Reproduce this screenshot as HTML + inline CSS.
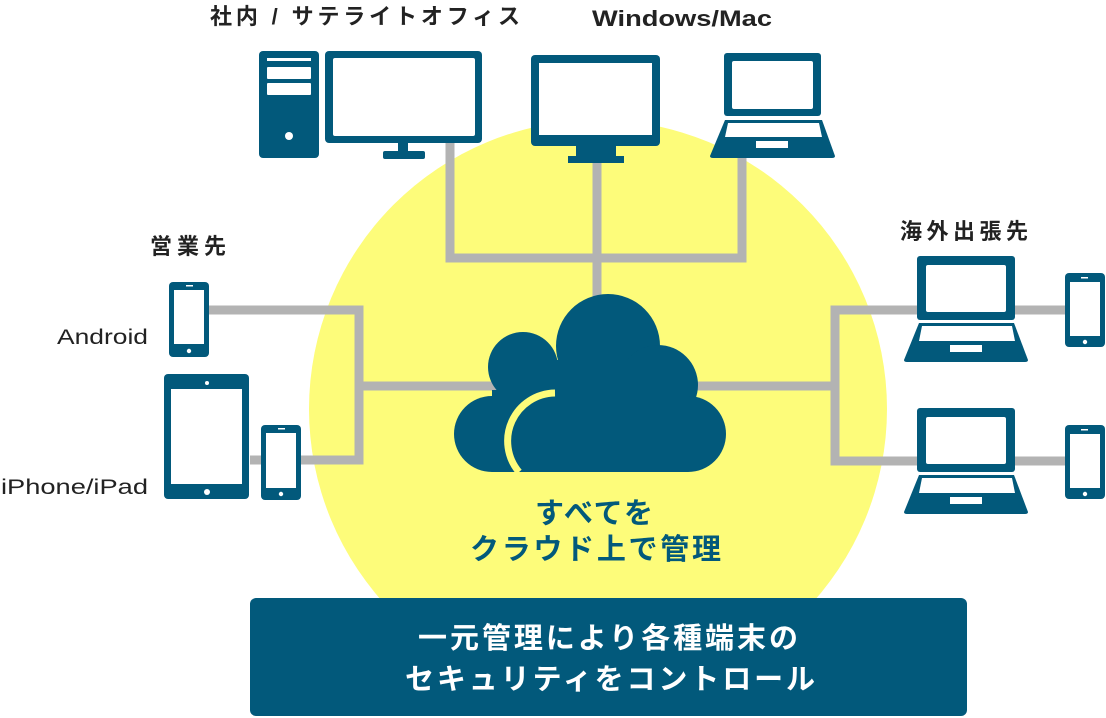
<!DOCTYPE html>
<html><head><meta charset="utf-8"><style>
html,body{margin:0;padding:0;background:#fff;}
svg{display:block;}
text{font-family:"Liberation Sans","Noto Sans CJK JP",sans-serif;}
</style></head><body>
<svg width="1106" height="718" viewBox="0 0 1106 718" xmlns="http://www.w3.org/2000/svg">
<circle cx="598" cy="409" r="289" fill="#fdfc7a"/>
<g stroke="#b3b3b3" stroke-width="9" fill="none">
<polyline points="450,143 450,258 742,258 742,158"/>
<line x1="597" y1="160" x2="597" y2="300"/>
<polyline points="209,310 359,310 359,460 250,460"/>
<line x1="359" y1="386" x2="500" y2="386"/>
<line x1="690" y1="386" x2="835" y2="386"/>
<polyline points="1065,310 835,310 835,461 1065,461"/>
</g>
<g fill="#02597b">
<rect x="259" y="51" width="60" height="107" rx="4"/>
<rect x="267" y="58" width="44" height="3" fill="#fff"/>
<rect x="267" y="67" width="44" height="12" rx="1" fill="#fff"/>
<rect x="267" y="83" width="44" height="12" rx="1" fill="#fff"/>
<circle cx="289" cy="136" r="4" fill="#fff"/>
<rect x="325" y="51" width="157" height="92" rx="4"/>
<rect x="333" y="58" width="142" height="78" rx="2" fill="#fff"/>
<rect x="398" y="143" width="10" height="9"/>
<rect x="383" y="151" width="42" height="8" rx="2"/>
<rect x="531" y="55" width="129" height="91" rx="4"/>
<rect x="539" y="63" width="113" height="72" fill="#fff"/>
<rect x="576" y="146" width="40" height="11"/>
<rect x="568" y="156" width="56" height="7"/>
<rect x="724" y="53" width="97" height="63" rx="3"/>
<rect x="732" y="61" width="81" height="48" rx="2" fill="#fff"/>
<path d="M725,120 L822,120 L835,156 Q835,158 832,158 L713,158 Q710,158 710,156 Z"/>
<path d="M728,123 L819,123 L822,137 L725,137 Z" fill="#fff"/>
<rect x="756" y="141" width="32" height="7" fill="#fff"/>
<rect x="169" y="282" width="40" height="75" rx="4"/>
<rect x="174" y="290" width="30" height="54" fill="#fff"/>
<rect x="186" y="285" width="7" height="1.5" fill="#fff"/>
<circle cx="189" cy="351" r="2.2" fill="#fff"/>
<rect x="164" y="374" width="85" height="125" rx="4"/>
<rect x="171" y="389" width="71" height="95" fill="#fff"/>
<circle cx="207" cy="383" r="2" fill="#fff"/>
<circle cx="207" cy="492" r="3" fill="#fff"/>
<rect x="261" y="425" width="40" height="75" rx="4"/>
<rect x="266" y="433" width="30" height="55" fill="#fff"/>
<rect x="278" y="428" width="7" height="1.5" fill="#fff"/>
<circle cx="281" cy="494" r="2.2" fill="#fff"/>
<g id="lap">
<rect x="917" y="256" width="98" height="64" rx="3"/>
<rect x="926" y="265" width="80" height="47" rx="2" fill="#fff"/>
<path d="M919,323 L1014,323 L1028,360 Q1028,362 1025,362 L907,362 Q904,362 904,360 Z"/>
<path d="M922,326 L1012,326 L1015,341 L919,341 Z" fill="#fff"/>
<rect x="950" y="345" width="32" height="7" fill="#fff"/>
<rect x="1065" y="273" width="40" height="74" rx="4"/>
<rect x="1070" y="282" width="30" height="54" fill="#fff"/>
<rect x="1081" y="277" width="7" height="1.5" fill="#fff"/>
<circle cx="1085" cy="342" r="2.2" fill="#fff"/>
</g>
<use href="#lap" transform="translate(0,152)"/>
<circle cx="608" cy="346" r="52"/>
<circle cx="523" cy="367" r="35"/>
<circle cx="658" cy="385" r="40"/>
<circle cx="688" cy="434" r="38"/>
<circle cx="492" cy="434" r="38"/>
<rect x="492" y="390" width="196" height="82"/>
<rect x="523" y="360" width="135" height="40"/>
</g>
<path d="M555,393 A48,48 0 0 0 519,472" stroke="#fdfc7a" stroke-width="7" fill="none"/>
<g fill="#222" font-weight="bold" font-size="22">
<text x="210" y="24" textLength="310" lengthAdjust="spacing">社内 / サテライトオフィス</text>
<text x="592" y="26" textLength="180" lengthAdjust="spacingAndGlyphs">Windows/Mac</text>
<text x="150" y="254" textLength="76" lengthAdjust="spacing">営業先</text>
<text x="900" y="239" textLength="128" lengthAdjust="spacing">海外出張先</text>
</g>
<g fill="#222" font-size="21">
<text x="57" y="344" textLength="91" lengthAdjust="spacingAndGlyphs">Android</text>
<text x="1" y="494" textLength="147" lengthAdjust="spacingAndGlyphs">iPhone/iPad</text>
</g>
<g fill="#02597b" font-weight="bold" font-size="29">
<text x="535" y="523" textLength="118" lengthAdjust="spacing">すべてを</text>
<text x="470" y="559" textLength="251" lengthAdjust="spacing">クラウド上で管理</text>
</g>
<rect x="250" y="598" width="717" height="118" rx="6" fill="#02597b"/>
<g fill="#fff" font-weight="bold" font-size="29">
<text x="418" y="648" textLength="380" lengthAdjust="spacing">一元管理により各種端末の</text>
<text x="405" y="689" textLength="410" lengthAdjust="spacing">セキュリティをコントロール</text>
</g>
</svg>
</body></html>
